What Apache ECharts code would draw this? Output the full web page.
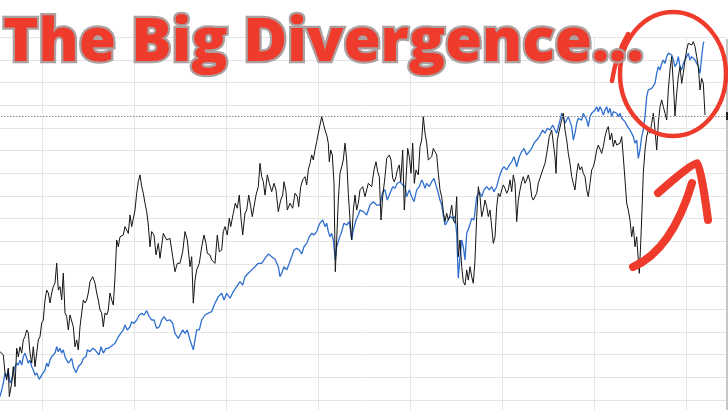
<!DOCTYPE html>
<html>
<head>
<meta charset="utf-8">
<script src="https://cdn.jsdelivr.net/npm/echarts@6/dist/echarts.min.js"></script>
<style>html,body{margin:0;padding:0;background:#fff;}#c{width:728px;height:410px;}</style>
</head>
<body>
<div id="c"></div>
<script>
// [time index, level] pairs
const blackSeries = [[50,21.3],[53.3,19.9],[55,11.9],[56.7,8.8],[58.3,14.1],[59.3,1.5],[61.7,7.5],[63.3,14.7],[65,5.9],[66.7,22.9],[68.3,19.1],[70,23.5],[71.7,20.7],[73.3,26.5],[75,27.9],[76.7,30.9],[78.3,29.6],[80,20.7],[81.7,16.3],[83.3,23.5],[85,14.7],[86.7,20.7],[88.3,26.5],[90,27.9],[91.7,34.0],[93.3,35.3],[95,44.1],[96.7,48.5],[98.3,47.2],[100,42.8],[101.7,47.2],[103.3,50.0],[105,51.6],[106.7,60.4],[108.3,48.5],[110,50.0],[111.7,44.1],[113.3,56.0],[115,38.4],[116.7,36.8],[118.3,30.9],[120,37.5],[121.7,36.8],[123.3,32.3],[125,23.5],[126.7,26.5],[128.3,22.1],[130,32.3],[131.7,38.4],[133.3,44.1],[135,42.8],[136.7,44.1],[138.3,47.2],[140,52.2],[142.7,54.4],[145,51.6],[146.7,47.2],[148.3,44.1],[150,39.7],[151.7,38.4],[153.3,32.3],[155,38.4],[156.7,37.5],[158.3,39.7],[160,47.2],[161.7,44.1],[163.3,41.9],[165,54.4],[166.7,70.6],[168.3,67.6],[170,72.0],[173.3,72.8],[175,76.5],[176.7,75.8],[178.3,73.5],[180,81.6],[181.7,76.5],[183.3,75.8],[185,83.8],[186.7,91.2],[188.3,96.3],[190,99.3],[191.7,94.1],[193.3,91.2],[195,86.8],[196.7,83.1],[198.3,77.2],[200,67.6],[201.7,74.3],[204,72.8],[206,64.0],[208.3,69.1],[210,62.5],[213.3,73.5],[216.7,70.6],[220,71.3],[222.7,63.2],[225,56.6],[227.3,60.3],
[230,60.3],[232.7,65.4],[235,74.3],[237.3,70.6],[240,58.8],[241.7,63.2],[243.3,42.7],[245,52.9],[246.7,57.4],[249.3,60.3],[251.7,67.6],[254,72.8],[256,69.1],[257.3,64.7],[260,64.0],[261.7,61.8],[263.3,62.5],[265,60.3],[267.3,72.8],[269.3,65.4],[271.7,66.2],[273.3,74.3],[275,76.5],[277.3,72.8],[279.3,80.2],[280.7,76.5],[283.3,82.4],[285.3,86.8],[287.3,84.6],[289.3,90.4],[291,80.2],[292.7,72.8],[295,82.4],[296.7,83.8],[298.7,90.4],[300.7,85.3],[302.3,80.9],[304,85.3],[306,90.4],[308.3,94.1],[310,104.4],[311.7,98.5],[313.3,96.3],[315,90.4],[317.3,99.3],[319.3,95.6],[321.7,91.9],[324,95.6],[326,92.7],[328.3,83.1],[330.7,88.2],[332.7,90.4],[334,96.3],[336,91.9],[337.3,83.8],[340,86.8],[342.7,84.6],[345,91.2],[347.3,89.7],[348.7,85.3],[350.7,94.1],[352.7,97.1],[355,98.5],[356.7,94.9],[358.3,101.5],[360,104.4],[361.7,108.1],[363.3,105.9],[365,110.3],[366.7,114.0],[368.3,117.7],[370,121.3],[371.7,125.0],[373.3,124.3],[375,119.1],[376.7,116.9],[378.3,113.3],[379.3,105.1],[380.7,110.3],[382.3,108.1],[384,95.6],[385.3,56.6],[386.7,70.6],[388.3,88.2],[390,100.0],[391.7,102.9],[393.3,105.9],[395,113.3],[396.7,105.9],[398.3,91.2],[400,79.4],[401.7,70.6],[403.3,83.8],[405,90.4],[406.7,83.8],[408.3,86.8],
[410,92.7],[412.7,94.1],[415,89.7],[416.7,92.7],[418.3,95.6],[421.7,94.1],[424,101.5],[426,105.1],[427.7,100.7],[429.3,98.5],[431,79.4],[432.7,89.7],[435,98.5],[436.7,106.6],[439.3,108.1],[441,105.9],[442.7,97.8],[444.3,96.3],[446,98.5],[447.3,101.5],[449.3,103.7],[450.7,96.3],[452.7,110.3],[454.3,83.8],[456,97.1],[457.7,111.0],[459.3,107.3],[461,100.0],[462.7,113.3],[464.3,95.6],[466,101.5],[468.3,99.3],[470,111.8],[471.7,114.7],[473.3,125.0],[475,117.7],[476.7,113.3],[478.3,105.9],[480,105.1],[481.7,107.3],[483.3,111.0],[485,109.6],[486.7,108.1],[488.3,100.0],[490,92.7],[491.7,89.7],[493.3,83.1],[495,78.7],[496.7,82.4],[498.3,79.4],[500,81.6],[501.7,86.0],[503.3,79.4],[505,78.0],[506.7,89.7],[508.3,63.2],[510,70.6],[511.7,58.8],[513.3,52.2],[515,50.7],[516.7,57.4],[518.3,52.9],[520,58.8],[521.7,54.4],[523.3,51.5],[525,61.8],[526.7,80.9],[528.3,94.1],[530,89.7],[531.7,80.9],[533.3,83.8],[535,88.2],[536.7,85.3],[538.3,80.9],[540,83.8],[541.7,76.5],[543.3,69.1],[545,72.0],[546.7,85.3],[548.3,91.2],[550,89.7],[551.7,92.7],[553.3,94.9],[555,93.4],[556.7,91.2],[558.3,92.7],[560,97.1],[561.7,91.9],[563.3,99.3],[565,95.6],[566.7,78.7],[568.3,88.2],[570,92.7],[571.7,96.3],[573.3,98.5],[575,95.6],[576.7,97.1],[578.3,99.3],[580,96.3],[581.7,89.7],[583.3,88.2],[585,89.0],[586.7,91.2],[588.3,95.6],
[590,96.3],[592.7,101.5],[595,104.4],[597.3,110.3],[599.3,116.2],[601.7,119.1],[603.3,113.3],[605,107.3],[606,100.0],[607.3,114.7],[609.3,119.1],[611.7,123.5],[613.3,126.5],[615,119.1],[616.7,114.7],[618.3,108.8],[620,104.4],[621.7,98.5],[623.3,95.6],[625,92.7],[626.7,100.0],[628.3,104.4],[630,101.5],[631.7,102.9],[633.3,100.0],[635,98.5],[636.7,92.7],[638.3,89.7],[640,95.6],[641.7,101.5],[643.3,102.9],[645,105.9],[646.7,110.3],[648.3,112.5],[650,113.3],[651.7,108.8],[653.3,111.8],[655,116.2],[656.7,119.1],[658.3,120.6],[660,114.7],[661.7,117.7],[663.3,111.8],[665,114.7],[666.7,112.5],[668.3,111.8],[670,113.3],[671.7,116.2],[673.3,107.3],[675,97.1],[676.7,86.8],[678.3,83.8],[680,79.4],[681.7,72.0],[683.3,76.5],[685,67.6],[686.7,72.0],[688.3,61.8],[689.3,55.9],[690.7,69.1],[692,83.8],[693.3,100.0],[695,110.3],[696.7,116.2],[698.3,119.1],[700,117.7],[701.7,122.1],[703.3,126.5],[705,119.1],[706.7,110.3],[708.3,122.1],[710,129.4],[711.7,132.4],[713.3,129.4],[715,126.5],[716.7,123.5],[718.3,136.8],[720,145.6],[721.7,151.5],[723.3,139.7],[725,125.3],[726.7,135.3],[728.3,142.6],[730,147.1],[731.7,139.7],[733.3,144.1],[735,150.0],[736.7,154.4],[738.3,157.4],[740,158.1],[741.7,156.6],[743.3,158.1],[745,155.9],[746.7,151.5],[748.3,147.1],[750,136.8],[751.7,141.9],[753.3,139.7],[755,125.7]];

const blueSeries = [[50,1.5],[51.7,4.4],[53.3,7.5],[55,11.9],[56.7,10.3],[58.3,13.2],[60,7.5],[61.7,8.8],[63.3,11.9],[65,14.7],[66.7,16.3],[68.3,15.4],[70,17.6],[71.7,15.4],[73.3,19.1],[75,20.7],[76.7,18.4],[78.3,16.3],[80,17.6],[81.7,14.7],[83.3,13.2],[85,11.0],[86.7,11.9],[89.3,9.1],[91.7,11.0],[93.3,10.3],[95,13.2],[96.7,16.3],[98.3,14.7],[100,17.6],[101.7,19.1],[103.3,19.1],[105,20.7],[106.7,23.5],[108.3,21.3],[110,22.8],[111.7,20.7],[113.3,22.1],[115,19.1],[116.7,17.6],[118.3,16.3],[120,16.9],[121.7,18.4],[123.3,14.7],[126,12.0],[128.3,14.7],[130,15.4],[131.7,16.3],[133.3,18.4],[136,19.1],[137.3,22.1],[140,21.3],[142.7,22.8],[145,22.1],[146.7,22.8],[149,19.9],[151,23.5],[153.3,20.7],[156,22.8],[158.3,22.8],[160.7,23.5],[162.7,22.8],[165,25.0],[166.7,26.5],[168.3,27.9],[170.7,29.4],[173.3,30.9],[175,33.1],[177.3,30.9],[180,32.3],[181.7,34.5],[184,33.8],[186.7,35.3],[189.3,37.5],[191.7,38.3],[194,37.5],[196.7,39.4],[199.3,36.8],[201.7,35.3],[204,35.3],[206.7,31.6],[209.3,32.3],[211.7,35.3],[214,36.8],[216.7,35.0],[220,35.3],[222.7,33.8],[225,29.4],[228.3,27.2],
[230,26.5],[232.7,30.9],[235,29.4],[237.3,30.9],[240,26.5],[243.3,22.1],[246.7,30.9],[249.3,30.9],[251.7,35.3],[255,37.5],[258.3,38.3],[261.7,39.0],[265,42.7],[268.3,45.6],[271.7,47.1],[274,44.1],[276.7,47.1],[280,44.9],[283.3,47.8],[286.7,50.0],[290,52.2],[292.7,50.7],[295,54.4],[298.3,55.9],[301.7,57.4],[305,58.8],[308.3,60.3],[311.7,60.3],[315,62.5],[318.3,64.4],[321.7,63.2],[325,62.1],[328.3,58.8],[330,54.4],[331.7,55.9],[334,58.8],[336.7,57.4],[339.3,60.3],[341.7,63.2],[344,66.2],[346.7,66.9],[349.3,66.2],[351.7,64.4],[354,67.6],[356.7,69.1],[359.3,72.0],[361.7,73.5],[364,72.8],[366.7,74.3],[368.3,76.5],[370,78.0],[372.7,79.4],[375,76.5],[376.7,78.0],[378.3,74.3],[380,72.0],[381.7,73.5],[383.3,70.6],[385.3,61.8],[386.7,67.6],[389.3,71.3],[391.7,74.3],[394,78.0],[396.7,77.2],[399.3,78.7],[401.7,70.6],[403.3,75.0],[406,79.4],[408.3,81.6],
[410,83.8],[413.3,83.1],[416.7,81.6],[420,86.0],[423.3,87.5],[426.7,86.0],[430,86.0],[432.7,91.9],[435,92.7],[437.3,88.2],[440,91.2],[442.7,94.1],[445,93.4],[447.3,95.6],[450,96.3],[452.7,94.9],[455,94.1],[456.7,89.7],[459.3,92.7],[461.7,89.7],[464,87.5],[466.7,92.7],[469.3,94.1],[471.7,97.1],[473.3,95.6],[475,93.4],[476.7,95.6],[479.3,94.1],[481.7,96.3],[484,97.8],[486,97.1],[488.3,91.2],[490,88.2],[491.7,86.0],[493.3,81.6],[495,77.2],[497.3,78.7],[500,80.9],[502.7,80.2],[505,80.9],[506.7,73.5],[508.3,53.7],[510,63.2],[511.7,70.6],[513.3,67.6],[515,61.8],[516.7,73.5],[519.3,76.5],[521.7,80.2],[524,79.4],[526.7,89.7],[529.3,91.9],[531.7,89.7],[534,92.7],[536.7,94.1],[539.3,92.7],[541.7,94.1],[544,91.9],[546.7,94.1],[549.3,98.5],[551.7,101.5],[554,102.9],[556.7,101.5],[559.3,103.7],[561.7,105.1],[564,107.3],[566.7,102.9],[569.3,107.3],[571.7,109.6],[574,111.0],[576.7,108.1],[579.3,109.6],[581.7,111.0],[584,113.3],[586.7,114.7],[589.3,116.2],
[592.7,119.1],[595,117.7],[597.3,119.9],[600,119.1],[602.7,121.3],[605,119.1],[606.7,117.7],[609.3,122.1],[611.7,126.5],[613.3,125.0],[615,122.1],[616.7,123.5],[618.3,125.0],[620,122.8],[621.7,120.6],[623.3,114.7],[625,117.7],[626.7,122.1],[628.3,124.3],[630,125.0],[631.7,123.5],[633.3,126.5],[635,125.7],[636.7,123.5],[638.3,120.6],[640,125.0],[641.7,126.5],[643.3,127.2],[645,127.9],[646.7,129.4],[648.3,127.2],[650,129.4],[651.7,127.9],[653.3,125.7],[655,127.9],[656.7,129.4],[658.3,126.5],[660,128.7],[661.7,125.0],[663.3,127.2],[665,127.9],[666.7,126.5],[668.3,125.0],[670,126.5],[671.7,124.3],[673.3,125.0],[675,122.8],[676.7,121.3],[678.3,122.1],[680,119.1],[681.7,119.9],[683.3,116.2],[685,113.3],[686.7,114.7],[688.3,106.6],[690,110.3],[691.7,116.2],[693.3,119.1],[695,125.0],[696.7,133.8],[698.3,136.8],[700,136.0],[701.7,137.5],[703.3,138.2],[705,139.7],[706.7,144.1],[708.3,147.1],[710,145.6],[711.7,148.5],[713.3,150.0],[715,148.5],[716.7,151.5],[718.3,153.0],[720,153.7],[721.7,152.2],[723.3,150.0],[725,147.1],[726.7,148.5],[728.3,151.5],[730,147.1],[731.7,145.6],[733.3,148.5],[735,150.0],[736.7,151.5],[738.3,153.0],[740,150.0],[741.7,151.5],[743.3,151.5],[745,150.0],[746.7,148.5],[748.3,147.1],[750,144.1],[751.7,151.5],[753.3,157.4],[754,158.1]];

const priorHigh = 125.4;
const titleText = 'The Big Divergence...';

const chart = echarts.init(document.getElementById('c'), null, {renderer: 'canvas'});
const red = '#ef3b2c';
chart.setOption({
  animation: false,
  backgroundColor: '#ffffff',
  grid: {left: -50, right: 2, top: 37.33, bottom: -12.67, containLabel: false, outerBoundsMode: 'none'},
  xAxis: {
    type: 'value', min: 0, max: 776, interval: 92,
    axisLine: {show: false}, axisTick: {show: false}, axisLabel: {show: false},
    splitLine: {show: true, lineStyle: {color: '#e6e6e6', width: 1}}
  },
  yAxis: {
    type: 'value', min: -10, max: 160, interval: 10,
    axisLine: {show: false}, axisTick: {show: false}, axisLabel: {show: false},
    splitLine: {show: true, lineStyle: {color: '#e4e4e4', width: 1}}
  },
  series: [
    {
      name: 'Blue', type: 'line', data: blueSeries, showSymbol: false, symbol: 'none',
      lineStyle: {color: '#2f6fcf', width: 1.3}, z: 2
    },
    {
      name: 'Black', type: 'line', data: blackSeries, showSymbol: false, symbol: 'none',
      lineStyle: {color: '#141414', width: 1}, z: 3,
      markLine: {
        silent: true, symbol: 'none', label: {show: false},
        lineStyle: {color: '#8a8a8a', type: [1.5, 1.5], width: 1},
        data: [{yAxis: priorHigh}]
      }
    }
  ],
  graphic: [
    {type: 'line', z: 50, shape: {x1: 727, y1: 39, x2: 727, y2: 410}, style: {stroke: '#c6c6c6', lineWidth: 2}},
    {type: 'rect', z: 51, shape: {x: 726, y: 112, width: 2.5, height: 8}, style: {fill: '#222'}},
    {type: 'ellipse', z: 60, shape: {cx: 673, cy: 74, rx: 53, ry: 62}, style: {fill: null, stroke: red, lineWidth: 4.5}},
    {type: 'bezierCurve', z: 60, shape: {x1: 628, y1: 34, cpx1: 616, cpy1: 55, x2: 612, y2: 81}, style: {fill: null, stroke: red, lineWidth: 4.5, lineCap: 'round'}},
    {type: 'bezierCurve', z: 60, shape: {x1: 633, y1: 267, cpx1: 672, cpy1: 250, x2: 692, y2: 183}, style: {fill: null, stroke: red, lineWidth: 8, lineCap: 'round'}},
    {type: 'polyline', z: 60, shape: {points: [[658, 193], [697, 163], [708, 220]], smooth: 0.15}, style: {fill: null, stroke: red, lineWidth: 8, lineCap: 'round', lineJoin: 'round'}},
    {type: 'text', z: 70, x: 3, y: 44, style: {
      text: titleText, fill: red, stroke: '#ab9f9f', lineWidth: 4.5, strokeFirst: true,
      font: '800 60px "Open Sans", Lato, sans-serif', verticalAlign: 'middle', align: 'left'
    }}
  ]
});
</script>
</body>
</html>
